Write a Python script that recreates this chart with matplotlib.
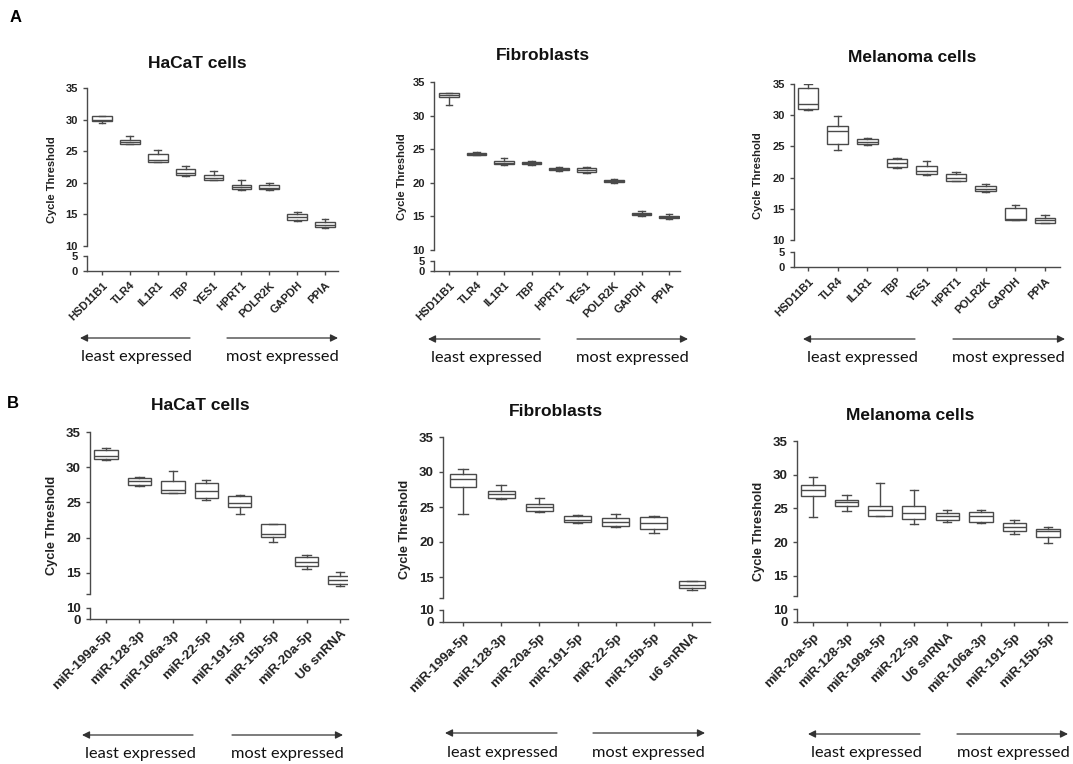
import matplotlib
matplotlib.use('Agg')
import matplotlib.pyplot as plt

plt.rcParams['font.family'] = ['Liberation Sans', 'DejaVu Sans']

W, H = 1073, 764
LINE = '#4a4a4a'

# Cycle threshold box stats per gene: (min, Q1, median, Q3, max)
genes_a_hacat = ['HSD11B1', 'TLR4', 'IL1R1', 'TBP', 'YES1', 'HPRT1', 'POLR2K', 'GAPDH', 'PPIA']
ct_a_hacat = [(29.5, 29.7, 30.0, 30.5, 30.6), (26.1, 26.2, 26.5, 26.8, 27.4),
              (23.3, 23.3, 23.6, 24.5, 25.2), (21.1, 21.2, 21.6, 22.2, 22.6),
              (20.4, 20.5, 20.8, 21.3, 21.8), (18.9, 19.0, 19.3, 19.7, 20.5),
              (18.9, 19.0, 19.2, 19.7, 20.0), (14.0, 14.05, 14.6, 15.1, 15.4),
              (12.9, 13.0, 13.4, 13.8, 14.2)]

genes_a_fibro = ['HSD11B1', 'TLR4', 'IL1R1', 'TBP', 'HPRT1', 'YES1', 'POLR2K', 'GAPDH', 'PPIA']
ct_a_fibro = [(31.6, 32.7, 33.0, 33.35, 33.4), (24.1, 24.2, 24.3, 24.45, 24.55),
              (22.7, 22.8, 23.0, 23.3, 23.7), (22.65, 22.75, 22.9, 23.05, 23.2),
              (21.8, 21.9, 22.05, 22.2, 22.35), (21.5, 21.65, 21.9, 22.15, 22.3),
              (20.0, 20.1, 20.25, 20.4, 20.5), (15.1, 15.25, 15.4, 15.55, 15.75),
              (14.6, 14.75, 14.9, 15.1, 15.4)]

genes_a_mela = ['HSD11B1', 'TLR4', 'IL1R1', 'TBP', 'YES1', 'HPRT1', 'POLR2K', 'GAPDH', 'PPIA']
ct_a_mela = [(30.9, 31.0, 31.8, 34.3, 35.0), (24.5, 25.4, 27.4, 28.2, 29.8),
             (25.3, 25.4, 25.7, 26.2, 26.4), (21.6, 21.7, 22.4, 23.0, 23.2),
             (20.4, 20.5, 21.1, 21.9, 22.6), (19.5, 19.5, 20.0, 20.5, 20.9),
             (17.7, 17.9, 18.2, 18.7, 18.9), (13.2, 13.2, 13.4, 15.2, 15.6),
             (12.7, 12.7, 13.2, 13.6, 14.0)]

mirs_b_hacat = ['miR-199a-5p', 'miR-128-3p', 'miR-106a-3p', 'miR-22-5p',
                'miR-191-5p', 'miR-15b-5p', 'miR-20a-5p', 'U6 snRNA']
ct_b_hacat = [(31.0, 31.1, 31.6, 32.5, 32.7), (27.3, 27.5, 28.0, 28.4, 28.6),
              (26.4, 26.4, 26.8, 28.0, 29.4), (25.3, 25.6, 26.6, 27.7, 28.2),
              (23.3, 24.4, 24.9, 25.9, 26.1), (19.35, 20.1, 20.5, 21.9, 22.0),
              (15.6, 16.0, 16.6, 17.2, 17.5), (13.1, 13.35, 14.05, 14.5, 15.1)]

mirs_b_fibro = ['miR-199a-5p', 'miR-128-3p', 'miR-20a-5p', 'miR-191-5p',
                'miR-22-5p', 'miR-15b-5p', 'u6 snRNA']
ct_b_fibro = [(24.0, 27.9, 29.0, 29.7, 30.5), (26.2, 26.3, 26.8, 27.3, 28.1),
              (24.3, 24.4, 24.95, 25.5, 26.3), (22.75, 22.9, 23.2, 23.7, 23.85),
              (22.1, 22.3, 22.8, 23.4, 23.95), (21.3, 21.9, 22.75, 23.55, 23.7),
              (13.1, 13.4, 13.9, 14.4, 14.5)]

mirs_b_mela = ['miR-20a-5p', 'miR-128-3p', 'miR-199a-5p', 'miR-22-5p',
               'U6 snRNA', 'miR-106a-3p', 'miR-191-5p', 'miR-15b-5p']
ct_b_mela = [(23.7, 26.9, 27.7, 28.4, 29.7), (24.6, 25.4, 25.9, 26.2, 27.0),
             (23.8, 23.9, 24.7, 25.3, 28.7), (22.65, 23.5, 24.3, 25.4, 27.7),
             (23.05, 23.3, 23.9, 24.3, 24.7), (22.9, 23.05, 23.8, 24.5, 24.8),
             (21.2, 21.7, 22.3, 22.8, 23.3), (19.8, 20.7, 21.6, 22.0, 22.3)]

panels = [
    # title, labels, stats, row
    ('HaCaT cells', genes_a_hacat, ct_a_hacat, 'A'),
    ('Fibroblasts', genes_a_fibro, ct_a_fibro, 'A'),
    ('Melanoma cells', genes_a_mela, ct_a_mela, 'A'),
    ('HaCaT cells', mirs_b_hacat, ct_b_hacat, 'B'),
    ('Fibroblasts', mirs_b_fibro, ct_b_fibro, 'B'),
    ('Melanoma cells', mirs_b_mela, ct_b_mela, 'B'),
]

# pixel layout: x left, x right, main top, main bottom, low top, low bottom, first cat, last cat
layout = [
    (87, 338, 88, 246, 256, 271, 102, 325),
    (434, 680, 82, 250, 261, 271, 449, 669),
    (794, 1060, 84, 240, 252, 267, 808, 1045),
    (90, 348, 432, 594, 608, 619, 106, 340),
    (443, 710, 437, 598, 610, 622, 463, 692),
    (797, 1067, 441, 596, 609, 622, 813, 1048),
]
# title position, ylabel x
title_pos = [(197, 63), (543, 56), (912, 57), (200, 406), (556, 412), (910, 415)]
ylab_x = [52, 402, 758, 52, 405, 759]
# arrows: left start, left end, right start, right end, arrow y, text y, least x, most x
arrows = [
    (190, 80, 227, 338, 338, 357, 136, 282),
    (540, 428, 577, 688, 339, 358, 486, 632),
    (915, 803, 953, 1065, 339, 358, 862, 1008),
    (193, 82, 232, 343, 735, 754, 140, 287),
    (557, 445, 593, 705, 733, 753, 502, 648),
    (920, 808, 957, 1068, 734, 753, 866, 1013),
]
# font sizes per row: tick labels, y label
fs_row = {'A': (8, 8), 'B': (9.5, 9.2)}


def fx(x):
    return x / W


def fy(y):
    return 1 - y / H


def style_axis(ax, fs):
    for s in ['top', 'right']:
        ax.spines[s].set_visible(False)
    for s in ['left', 'bottom']:
        ax.spines[s].set_color(LINE)
        ax.spines[s].set_linewidth(1.0)
    ax.tick_params(colors=LINE, labelcolor='#222222', length=3, width=1.0, direction='out',
                   labelsize=fs)
    for t in ax.get_yticklabels():
        t.set_fontweight('bold')


fig = plt.figure(figsize=(W / 100, H / 100), dpi=100)

for i, (title, labels, stats, row) in enumerate(panels):
    xl, xr, mt, mb, lt, lb, c0, c1 = layout[i]
    tick_fs, ylab_fs = fs_row[row]
    n = len(labels)
    step = (c1 - c0) / (n - 1)
    xlim = (-(c0 - xl) / step, n - 1 + (xr - c1) / step)

    ax = fig.add_axes([fx(xl), fy(mb), fx(xr - xl), (mb - mt) / H])
    low = fig.add_axes([fx(xl), fy(lb), fx(xr - xl), (lb - lt) / H])

    bstats = [dict(whislo=s[0], q1=s[1], med=s[2], q3=s[3], whishi=s[4]) for s in stats]
    ax.bxp(bstats, positions=range(n), widths=0.7, capwidths=0.25, showfliers=False,
           patch_artist=True,
           boxprops=dict(facecolor='white', edgecolor=LINE, linewidth=1.0),
           medianprops=dict(color=LINE, linewidth=1.0),
           whiskerprops=dict(color=LINE, linewidth=1.0),
           capprops=dict(color=LINE, linewidth=1.0))

    if row == 'A':
        ax.set_ylim(10, 35)
        ax.set_yticks([10, 15, 20, 25, 30, 35])
        low.set_ylim(0, 5)
        low.set_yticks([0, 5])
    else:
        ax.set_ylim(12, 35)
        ax.set_yticks([12, 15, 20, 25, 30, 35])
        ax.set_yticklabels(['', '15', '20', '25', '30', '35'])
        low.set_ylim(0, 10)
        low.set_yticks([0, 10])

    ax.set_xlim(*xlim)
    low.set_xlim(*xlim)
    ax.spines['bottom'].set_visible(False)
    ax.set_xticks([])
    style_axis(ax, tick_fs)
    style_axis(low, tick_fs)
    low.set_xticks(range(n))
    low.set_xticklabels(labels, rotation=45, ha='right', rotation_mode='anchor',
                        fontweight='bold', fontsize=tick_fs, color='#222222')

    tx, ty = title_pos[i]
    fig.text(fx(tx), fy(ty), title, ha='center', va='center', fontsize=12.5, fontweight='bold',
             color='#111111')
    fig.text(fx(ylab_x[i]), fy((mt + lb) / 2), 'Cycle Threshold', rotation=90, ha='center',
             va='center', fontsize=ylab_fs, fontweight='bold', color='#222222')

    la0, la1, ra0, ra1, ay, tyy, lx, mx = arrows[i]
    for a, b in [(la0, la1), (ra0, ra1)]:
        fig.add_artist(matplotlib.patches.FancyArrowPatch(
            (fx(a), fy(ay)), (fx(b), fy(ay)), transform=fig.transFigure,
            arrowstyle='-|>', mutation_scale=11, color='#333333', lw=0.9,
            shrinkA=0, shrinkB=0))
    fig.text(fx(lx), fy(tyy), 'least expressed', ha='center', va='center', fontsize=11.8,
             family=['Lato', 'DejaVu Sans'], color='#111111')
    fig.text(fx(mx), fy(tyy), 'most expressed', ha='center', va='center', fontsize=11.8,
             family=['Lato', 'DejaVu Sans'], color='#111111')

fig.text(fx(16), fy(17), 'A', ha='center', va='center', fontsize=12, fontweight='bold')
fig.text(fx(13), fy(404), 'B', ha='center', va='center', fontsize=12, fontweight='bold')

fig.savefig('out.png', dpi=100, facecolor='white')
